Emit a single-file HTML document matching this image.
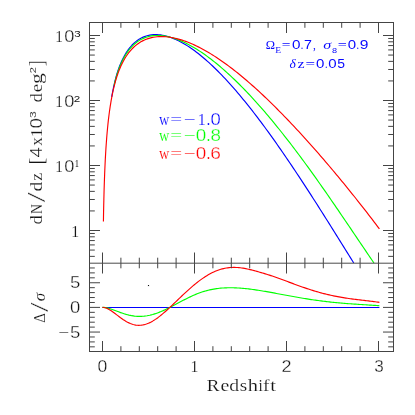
<!DOCTYPE html>
<html><head><meta charset="utf-8"><title>dN/dz</title>
<style>
html,body{margin:0;padding:0;background:#fff;}
svg{display:block;font-family:"Liberation Serif",serif;}
</style></head>
<body>
<svg width="415" height="415" viewBox="0 0 415 415">
<rect width="415" height="415" fill="#fff"/>
<path d="M111.70,96.86 L111.87,95.89 L112.05,94.93 L112.23,93.96 L112.41,92.99 L112.60,92.03 L112.79,91.06 L112.98,90.10 L113.18,89.13 L113.38,88.17 L113.58,87.20 L113.79,86.24 L114.00,85.28 L114.22,84.32 L114.44,83.36 L114.66,82.41 L114.89,81.46 L115.13,80.51 L115.36,79.56 L115.61,78.62 L115.85,77.68 L116.10,76.76 L116.36,75.83 L116.62,74.92 L116.88,74.01 L117.15,73.11 L117.43,72.23 L117.71,71.36 L118.00,70.50 L118.29,69.65 L118.58,68.82 L118.89,67.98 L119.19,67.16 L119.51,66.33 L119.83,65.52 L120.15,64.71 L120.49,63.90 L120.82,63.10 L121.17,62.30 L121.52,61.52 L121.88,60.73 L122.24,59.96 L122.61,59.19 L122.99,58.43 L123.37,57.67 L123.77,56.92 L124.17,56.18 L124.57,55.45 L124.99,54.72 L125.41,54.00 L125.84,53.29 L126.28,52.59 L126.73,51.90 L127.18,51.21 L127.65,50.54 L128.12,49.87 L128.60,49.21 L129.09,48.56 L129.59,47.93 L130.10,47.30 L131.89,45.26 L133.69,43.46 L135.48,41.87 L137.27,40.49 L139.07,39.28 L140.86,38.24 L142.66,37.35 L144.45,36.60 L146.24,35.99 L148.04,35.49 L149.83,35.11 L151.62,34.85 L153.42,34.68 L155.21,34.61 L157.01,34.63 L158.80,34.74 L160.59,34.94 L162.39,35.21 L164.18,35.56 L165.97,35.99 L167.77,36.48 L169.56,37.04 L171.35,37.67 L173.15,38.35 L174.94,39.10 L176.74,39.91 L178.53,40.77 L180.32,41.69 L182.12,42.66 L183.91,43.69 L185.70,44.76 L187.50,45.88 L189.29,47.05 L191.08,48.27 L192.88,49.52 L194.67,50.83 L196.47,52.17 L198.26,53.56 L200.05,54.99 L201.85,56.45 L203.64,57.96 L205.43,59.50 L207.23,61.08 L209.02,62.69 L210.82,64.34 L212.61,66.03 L214.40,67.75 L216.20,69.50 L217.99,71.28 L219.78,73.09 L221.58,74.94 L223.37,76.81 L225.16,78.72 L226.96,80.65 L228.75,82.61 L230.55,84.61 L232.34,86.62 L234.13,88.67 L235.93,90.74 L237.72,92.83 L239.51,94.95 L241.31,97.10 L243.10,99.27 L244.89,101.46 L246.69,103.68 L248.48,105.92 L250.28,108.18 L252.07,110.47 L253.86,112.77 L255.66,115.10 L257.45,117.44 L259.24,119.81 L261.04,122.20 L262.83,124.60 L264.63,127.03 L266.42,129.47 L268.21,131.93 L270.01,134.41 L271.80,136.91 L273.59,139.42 L275.39,141.95 L277.18,144.49 L278.97,147.05 L280.77,149.63 L282.56,152.22 L284.36,154.83 L286.15,157.45 L287.94,160.08 L289.74,162.73 L291.53,165.39 L293.32,168.06 L295.12,170.75 L296.91,173.45 L298.70,176.16 L300.50,178.88 L302.29,181.61 L304.09,184.35 L305.88,187.10 L307.67,189.86 L309.47,192.64 L311.26,195.42 L313.05,198.21 L314.85,201.00 L316.64,203.81 L318.44,206.62 L320.23,209.44 L322.02,212.27 L323.82,215.11 L325.61,217.95 L327.40,220.79 L329.20,223.64 L330.99,226.50 L332.78,229.36 L334.58,232.23 L336.37,235.10 L338.17,237.97 L339.96,240.85 L341.75,243.73 L343.55,246.61 L345.34,249.50 L347.13,252.38 L348.93,255.27 L350.72,258.16 L352.51,261.05 L353.73,263.00" stroke="#0000ff" stroke-width="1.15" fill="none" stroke-linejoin="round"/>
<path d="M114.00,85.81 L114.17,85.06 L114.35,84.32 L114.52,83.58 L114.70,82.85 L114.89,82.11 L115.07,81.38 L115.26,80.65 L115.45,79.92 L115.64,79.20 L115.84,78.47 L116.04,77.76 L116.24,77.04 L116.45,76.33 L116.66,75.62 L116.87,74.92 L117.08,74.23 L117.30,73.54 L117.52,72.85 L117.75,72.17 L117.97,71.50 L118.20,70.84 L118.44,70.18 L118.68,69.53 L118.92,68.87 L119.16,68.22 L119.41,67.58 L119.67,66.94 L119.92,66.30 L120.18,65.66 L120.45,65.03 L120.72,64.40 L120.99,63.78 L121.27,63.16 L121.55,62.54 L121.83,61.93 L122.12,61.32 L122.41,60.71 L122.71,60.11 L123.01,59.51 L123.32,58.92 L123.63,58.33 L123.95,57.75 L124.27,57.17 L124.59,56.60 L124.92,56.03 L125.26,55.46 L125.60,54.90 L125.94,54.35 L126.29,53.80 L126.65,53.25 L127.01,52.71 L127.38,52.18 L127.75,51.65 L128.13,51.13 L128.51,50.61 L128.90,50.10 L129.29,49.60 L129.69,49.10 L130.10,48.61 L131.89,46.59 L133.69,44.80 L135.48,43.23 L137.27,41.84 L139.07,40.63 L140.86,39.57 L142.66,38.66 L144.45,37.87 L146.24,37.22 L148.04,36.68 L149.83,36.24 L151.62,35.91 L153.42,35.67 L155.21,35.51 L157.01,35.45 L158.80,35.46 L160.59,35.55 L162.39,35.71 L164.18,35.93 L165.97,36.23 L167.77,36.58 L169.56,37.00 L171.35,37.47 L173.15,38.00 L174.94,38.58 L176.74,39.21 L178.53,39.89 L180.32,40.62 L182.12,41.39 L183.91,42.21 L185.70,43.07 L187.50,43.98 L189.29,44.92 L191.08,45.91 L192.88,46.93 L194.67,47.99 L196.47,49.08 L198.26,50.22 L200.05,51.38 L201.85,52.58 L203.64,53.82 L205.43,55.08 L207.23,56.38 L209.02,57.71 L210.82,59.07 L212.61,60.46 L214.40,61.87 L216.20,63.32 L217.99,64.80 L219.78,66.30 L221.58,67.83 L223.37,69.39 L225.16,70.97 L226.96,72.58 L228.75,74.21 L230.55,75.87 L232.34,77.56 L234.13,79.26 L235.93,81.00 L237.72,82.75 L239.51,84.53 L241.31,86.33 L243.10,88.16 L244.89,90.01 L246.69,91.88 L248.48,93.77 L250.28,95.68 L252.07,97.62 L253.86,99.57 L255.66,101.55 L257.45,103.54 L259.24,105.56 L261.04,107.60 L262.83,109.65 L264.63,111.73 L266.42,113.82 L268.21,115.94 L270.01,118.07 L271.80,120.22 L273.59,122.39 L275.39,124.57 L277.18,126.78 L278.97,129.00 L280.77,131.24 L282.56,133.49 L284.36,135.77 L286.15,138.05 L287.94,140.36 L289.74,142.68 L291.53,145.02 L293.32,147.37 L295.12,149.73 L296.91,152.11 L298.70,154.51 L300.50,156.92 L302.29,159.34 L304.09,161.78 L305.88,164.23 L307.67,166.69 L309.47,169.17 L311.26,171.65 L313.05,174.15 L314.85,176.67 L316.64,179.19 L318.44,181.72 L320.23,184.26 L322.02,186.82 L323.82,189.38 L325.61,191.95 L327.40,194.53 L329.20,197.12 L330.99,199.72 L332.78,202.32 L334.58,204.94 L336.37,207.56 L338.17,210.18 L339.96,212.81 L341.75,215.45 L343.55,218.09 L345.34,220.73 L347.13,223.38 L348.93,226.03 L350.72,228.69 L352.51,231.34 L354.31,234.00 L356.10,236.66 L357.90,239.32 L359.69,241.97 L361.48,244.63 L363.28,247.29 L365.07,249.94 L366.86,252.59 L368.66,255.23 L370.45,257.88 L372.25,260.51 L373.94,263.00" stroke="#00ff00" stroke-width="1.15" fill="none" stroke-linejoin="round"/>
<path d="M103.41,221.41 L103.47,218.19 L103.52,214.97 L103.58,211.75 L103.65,208.54 L103.72,205.33 L103.79,202.13 L103.87,198.92 L103.95,195.73 L104.03,192.53 L104.12,189.34 L104.22,186.15 L104.32,182.97 L104.43,179.80 L104.55,176.63 L104.67,173.46 L104.80,170.30 L104.93,167.15 L105.08,164.00 L105.23,160.86 L105.39,157.73 L105.57,154.61 L105.75,151.49 L105.94,148.38 L106.15,145.29 L106.37,142.20 L106.60,139.12 L106.84,136.05 L107.10,133.00 L107.37,129.96 L107.66,126.93 L107.97,123.92 L108.29,120.92 L108.64,117.94 L109.00,114.97 L109.39,112.02 L109.80,109.09 L110.24,106.19 L110.70,103.30 L111.18,100.44 L111.70,97.60 L112.25,94.78 L112.83,91.99 L113.44,89.24 L114.09,86.51 L114.78,83.82 L115.52,81.16 L116.29,78.53 L117.11,75.95 L117.98,73.41 L118.90,70.91 L119.88,68.47 L120.91,66.07 L122.01,63.72 L123.17,61.44 L124.40,59.21 L125.70,57.05 L127.09,54.97 L128.55,52.95 L130.10,51.02 L131.89,49.01 L133.69,47.22 L135.48,45.63 L137.27,44.21 L139.07,42.96 L140.86,41.84 L142.66,40.87 L144.45,40.01 L146.24,39.27 L148.04,38.63 L149.83,38.09 L151.62,37.64 L153.42,37.28 L155.21,37.00 L157.01,36.79 L158.80,36.66 L160.59,36.60 L162.39,36.60 L164.18,36.66 L165.97,36.78 L167.77,36.96 L169.56,37.19 L171.35,37.47 L173.15,37.81 L174.94,38.19 L176.74,38.62 L178.53,39.09 L180.32,39.61 L182.12,40.16 L183.91,40.76 L185.70,41.40 L187.50,42.07 L189.29,42.78 L191.08,43.53 L192.88,44.31 L194.67,45.13 L196.47,45.98 L198.26,46.86 L200.05,47.77 L201.85,48.72 L203.64,49.69 L205.43,50.69 L207.23,51.72 L209.02,52.78 L210.82,53.87 L212.61,54.98 L214.40,56.12 L216.20,57.28 L217.99,58.47 L219.78,59.68 L221.58,60.92 L223.37,62.18 L225.16,63.47 L226.96,64.77 L228.75,66.10 L230.55,67.45 L232.34,68.82 L234.13,70.22 L235.93,71.63 L237.72,73.06 L239.51,74.51 L241.31,75.99 L243.10,77.48 L244.89,78.99 L246.69,80.51 L248.48,82.06 L250.28,83.62 L252.07,85.20 L253.86,86.80 L255.66,88.41 L257.45,90.04 L259.24,91.69 L261.04,93.35 L262.83,95.03 L264.63,96.73 L266.42,98.43 L268.21,100.16 L270.01,101.89 L271.80,103.64 L273.59,105.41 L275.39,107.19 L277.18,108.98 L278.97,110.79 L280.77,112.61 L282.56,114.44 L284.36,116.28 L286.15,118.14 L287.94,120.01 L289.74,121.89 L291.53,123.78 L293.32,125.69 L295.12,127.60 L296.91,129.53 L298.70,131.47 L300.50,133.42 L302.29,135.38 L304.09,137.35 L305.88,139.33 L307.67,141.32 L309.47,143.32 L311.26,145.34 L313.05,147.36 L314.85,149.39 L316.64,151.43 L318.44,153.49 L320.23,155.55 L322.02,157.62 L323.82,159.70 L325.61,161.79 L327.40,163.89 L329.20,166.00 L330.99,168.12 L332.78,170.25 L334.58,172.38 L336.37,174.53 L338.17,176.69 L339.96,178.85 L341.75,181.03 L343.55,183.21 L345.34,185.40 L347.13,187.61 L348.93,189.82 L350.72,192.04 L352.51,194.27 L354.31,196.51 L356.10,198.76 L357.90,201.02 L359.69,203.29 L361.48,205.57 L363.28,207.86 L365.07,210.16 L366.86,212.47 L368.66,214.79 L370.45,217.12 L372.25,219.47 L374.04,221.82 L375.83,224.18 L377.63,226.56 L379.42,228.95" stroke="#ff0000" stroke-width="1.15" fill="none" stroke-linejoin="round"/>
<path d="M102.50,307.5 L379.42,307.5" stroke="#0000ff" stroke-width="1.15" fill="none"/>
<path d="M102.50,307.39 L103.89,307.43 L105.28,307.59 L106.67,307.83 L108.07,308.15 L109.46,308.54 L110.85,308.98 L112.24,309.46 L113.63,309.96 L115.02,310.49 L116.41,311.02 L117.81,311.55 L119.20,312.08 L120.59,312.59 L121.98,313.08 L123.37,313.55 L124.76,313.99 L126.15,314.40 L127.55,314.77 L128.94,315.12 L130.33,315.42 L131.72,315.69 L133.11,315.91 L134.50,316.10 L135.89,316.24 L137.29,316.34 L138.68,316.39 L140.07,316.40 L141.46,316.36 L142.85,316.28 L144.24,316.16 L145.64,315.99 L147.03,315.78 L148.42,315.52 L149.81,315.23 L151.20,314.89 L152.59,314.52 L153.98,314.11 L155.38,313.67 L156.77,313.19 L158.16,312.68 L159.55,312.14 L160.94,311.58 L162.33,310.98 L163.72,310.37 L165.12,309.73 L166.51,309.07 L167.90,308.39 L169.29,307.70 L170.68,306.99 L172.07,306.27 L173.46,305.54 L174.86,304.80 L176.25,304.06 L177.64,303.31 L179.03,302.57 L180.42,301.82 L181.81,301.08 L183.20,300.35 L184.60,299.63 L185.99,298.91 L187.38,298.21 L188.77,297.53 L190.16,296.86 L191.55,296.21 L192.94,295.58 L194.34,294.97 L195.73,294.39 L197.12,293.82 L198.51,293.28 L199.90,292.77 L201.29,292.28 L202.68,291.82 L204.08,291.38 L205.47,290.97 L206.86,290.59 L208.25,290.24 L209.64,289.91 L211.03,289.61 L212.43,289.33 L213.82,289.08 L215.21,288.85 L216.60,288.64 L217.99,288.46 L219.38,288.30 L220.77,288.17 L222.17,288.05 L223.56,287.95 L224.95,287.88 L226.34,287.82 L227.73,287.78 L229.12,287.76 L230.51,287.75 L231.91,287.76 L233.30,287.79 L234.69,287.83 L236.08,287.88 L237.47,287.95 L238.86,288.04 L240.25,288.13 L241.65,288.24 L243.04,288.36 L244.43,288.49 L245.82,288.63 L247.21,288.78 L248.60,288.94 L249.99,289.11 L251.39,289.29 L252.78,289.48 L254.17,289.67 L255.56,289.87 L256.95,290.08 L258.34,290.29 L259.73,290.51 L261.13,290.74 L262.52,290.97 L263.91,291.20 L265.30,291.44 L266.69,291.68 L268.08,291.93 L269.47,292.18 L270.87,292.43 L272.26,292.68 L273.65,292.94 L275.04,293.19 L276.43,293.45 L277.82,293.71 L279.22,293.97 L280.61,294.23 L282.00,294.49 L283.39,294.75 L284.78,295.01 L286.17,295.27 L287.56,295.53 L288.96,295.78 L290.35,296.04 L291.74,296.29 L293.13,296.54 L294.52,296.79 L295.91,297.04 L297.30,297.28 L298.70,297.53 L300.09,297.77 L301.48,298.00 L302.87,298.23 L304.26,298.46 L305.65,298.69 L307.04,298.91 L308.44,299.13 L309.83,299.35 L311.22,299.56 L312.61,299.76 L314.00,299.97 L315.39,300.17 L316.78,300.36 L318.18,300.55 L319.57,300.74 L320.96,300.92 L322.35,301.10 L323.74,301.27 L325.13,301.44 L326.52,301.61 L327.92,301.77 L329.31,301.92 L330.70,302.07 L332.09,302.22 L333.48,302.37 L334.87,302.51 L336.26,302.64 L337.66,302.77 L339.05,302.90 L340.44,303.03 L341.83,303.15 L343.22,303.26 L344.61,303.38 L346.01,303.49 L347.40,303.60 L348.79,303.70 L350.18,303.80 L351.57,303.90 L352.96,304.00 L354.35,304.10 L355.75,304.19 L357.14,304.28 L358.53,304.37 L359.92,304.46 L361.31,304.54 L362.70,304.63 L364.09,304.72 L365.49,304.80 L366.88,304.89 L368.27,304.97 L369.66,305.06 L371.05,305.15 L372.44,305.23 L373.83,305.32 L375.23,305.41 L376.62,305.51 L378.01,305.60 L379.40,305.70" stroke="#00ff00" stroke-width="1.15" fill="none" stroke-linejoin="round"/>
<path d="M102.50,307.39 L103.89,307.47 L105.28,307.76 L106.67,308.24 L108.07,308.88 L109.46,309.64 L110.85,310.51 L112.24,311.47 L113.63,312.48 L115.02,313.52 L116.41,314.59 L117.81,315.66 L119.20,316.72 L120.59,317.76 L121.98,318.75 L123.37,319.70 L124.76,320.60 L126.15,321.43 L127.55,322.19 L128.94,322.88 L130.33,323.49 L131.72,324.02 L133.11,324.46 L134.50,324.81 L135.89,325.07 L137.29,325.24 L138.68,325.32 L140.07,325.30 L141.46,325.18 L142.85,324.98 L144.24,324.68 L145.64,324.29 L147.03,323.82 L148.42,323.26 L149.81,322.63 L151.20,321.91 L152.59,321.13 L153.98,320.29 L155.38,319.38 L156.77,318.42 L158.16,317.41 L159.55,316.35 L160.94,315.25 L162.33,314.10 L163.72,312.93 L165.12,311.72 L166.51,310.48 L167.90,309.23 L169.29,307.95 L170.68,306.65 L172.07,305.34 L173.46,304.02 L174.86,302.69 L176.25,301.35 L177.64,300.02 L179.03,298.68 L180.42,297.35 L181.81,296.02 L183.20,294.70 L184.60,293.40 L185.99,292.10 L187.38,290.83 L188.77,289.57 L190.16,288.32 L191.55,287.11 L192.94,285.91 L194.34,284.74 L195.73,283.60 L197.12,282.49 L198.51,281.41 L199.90,280.36 L201.29,279.34 L202.68,278.36 L204.08,277.42 L205.47,276.51 L206.86,275.64 L208.25,274.82 L209.64,274.03 L211.03,273.29 L212.43,272.58 L213.82,271.93 L215.21,271.31 L216.60,270.74 L217.99,270.22 L219.38,269.74 L220.77,269.31 L222.17,268.92 L223.56,268.58 L224.95,268.28 L226.34,268.03 L227.73,267.82 L229.12,267.65 L230.51,267.53 L231.91,267.45 L233.30,267.41 L234.69,267.41 L236.08,267.45 L237.47,267.53 L238.86,267.64 L240.25,267.79 L241.65,267.96 L243.04,268.17 L244.43,268.41 L245.82,268.67 L247.21,268.96 L248.60,269.26 L249.99,269.59 L251.39,269.93 L252.78,270.28 L254.17,270.65 L255.56,271.02 L256.95,271.41 L258.34,271.80 L259.73,272.19 L261.13,272.59 L262.52,273.00 L263.91,273.41 L265.30,273.83 L266.69,274.26 L268.08,274.70 L269.47,275.14 L270.87,275.59 L272.26,276.05 L273.65,276.53 L275.04,277.01 L276.43,277.49 L277.82,277.99 L279.22,278.49 L280.61,279.00 L282.00,279.51 L283.39,280.02 L284.78,280.54 L286.17,281.06 L287.56,281.58 L288.96,282.10 L290.35,282.62 L291.74,283.14 L293.13,283.65 L294.52,284.17 L295.91,284.68 L297.30,285.19 L298.70,285.69 L300.09,286.19 L301.48,286.69 L302.87,287.17 L304.26,287.66 L305.65,288.13 L307.04,288.60 L308.44,289.06 L309.83,289.52 L311.22,289.96 L312.61,290.40 L314.00,290.83 L315.39,291.25 L316.78,291.66 L318.18,292.06 L319.57,292.45 L320.96,292.84 L322.35,293.21 L323.74,293.57 L325.13,293.93 L326.52,294.27 L327.92,294.60 L329.31,294.93 L330.70,295.24 L332.09,295.54 L333.48,295.84 L334.87,296.12 L336.26,296.40 L337.66,296.67 L339.05,296.92 L340.44,297.17 L341.83,297.41 L343.22,297.65 L344.61,297.87 L346.01,298.09 L347.40,298.30 L348.79,298.50 L350.18,298.70 L351.57,298.89 L352.96,299.08 L354.35,299.26 L355.75,299.43 L357.14,299.60 L358.53,299.77 L359.92,299.94 L361.31,300.11 L362.70,300.27 L364.09,300.43 L365.49,300.59 L366.88,300.76 L368.27,300.92 L369.66,301.09 L371.05,301.26 L372.44,301.44 L373.83,301.62 L375.23,301.80 L376.62,301.99 L378.01,302.19 L379.40,302.40" stroke="#ff0000" stroke-width="1.15" fill="none" stroke-linejoin="round"/>
<path d="M89.50,22.50L393.50,22.50M89.50,351.50L393.50,351.50M89.50,22.00L89.50,352.00M393.50,22.00L393.50,352.00M102.50,22.50L102.50,33.00M102.50,263.00L102.50,252.50M102.50,263.00L102.50,273.50M102.50,351.50L102.50,341.00M120.90,22.50L120.90,27.80M120.90,263.00L120.90,257.70M120.90,263.00L120.90,268.30M120.90,351.50L120.90,346.20M139.30,22.50L139.30,27.80M139.30,263.00L139.30,257.70M139.30,263.00L139.30,268.30M139.30,351.50L139.30,346.20M157.70,22.50L157.70,27.80M157.70,263.00L157.70,257.70M157.70,263.00L157.70,268.30M157.70,351.50L157.70,346.20M176.10,22.50L176.10,27.80M176.10,263.00L176.10,257.70M176.10,263.00L176.10,268.30M176.10,351.50L176.10,346.20M194.50,22.50L194.50,33.00M194.50,263.00L194.50,252.50M194.50,263.00L194.50,273.50M194.50,351.50L194.50,341.00M212.90,22.50L212.90,27.80M212.90,263.00L212.90,257.70M212.90,263.00L212.90,268.30M212.90,351.50L212.90,346.20M231.30,22.50L231.30,27.80M231.30,263.00L231.30,257.70M231.30,263.00L231.30,268.30M231.30,351.50L231.30,346.20M249.70,22.50L249.70,27.80M249.70,263.00L249.70,257.70M249.70,263.00L249.70,268.30M249.70,351.50L249.70,346.20M268.10,22.50L268.10,27.80M268.10,263.00L268.10,257.70M268.10,263.00L268.10,268.30M268.10,351.50L268.10,346.20M286.50,22.50L286.50,33.00M286.50,263.00L286.50,252.50M286.50,263.00L286.50,273.50M286.50,351.50L286.50,341.00M304.90,22.50L304.90,27.80M304.90,263.00L304.90,257.70M304.90,263.00L304.90,268.30M304.90,351.50L304.90,346.20M323.30,22.50L323.30,27.80M323.30,263.00L323.30,257.70M323.30,263.00L323.30,268.30M323.30,351.50L323.30,346.20M341.70,22.50L341.70,27.80M341.70,263.00L341.70,257.70M341.70,263.00L341.70,268.30M341.70,351.50L341.70,346.20M360.10,22.50L360.10,27.80M360.10,263.00L360.10,257.70M360.10,263.00L360.10,268.30M360.10,351.50L360.10,346.20M378.50,22.50L378.50,33.00M378.50,263.00L378.50,252.50M378.50,263.00L378.50,273.50M378.50,351.50L378.50,341.00M89.50,256.37L94.80,256.37M393.50,256.37L388.20,256.37M89.50,250.07L94.80,250.07M393.50,250.07L388.20,250.07M89.50,244.92L94.80,244.92M393.50,244.92L388.20,244.92M89.50,240.57L94.80,240.57M393.50,240.57L388.20,240.57M89.50,236.80L94.80,236.80M393.50,236.80L388.20,236.80M89.50,233.47L94.80,233.47M393.50,233.47L388.20,233.47M89.50,230.50L100.00,230.50M393.50,230.50L383.00,230.50M89.50,210.93L94.80,210.93M393.50,210.93L388.20,210.93M89.50,199.49L94.80,199.49M393.50,199.49L388.20,199.49M89.50,191.37L94.80,191.37M393.50,191.37L388.20,191.37M89.50,185.07L94.80,185.07M393.50,185.07L388.20,185.07M89.50,179.92L94.80,179.92M393.50,179.92L388.20,179.92M89.50,175.57L94.80,175.57M393.50,175.57L388.20,175.57M89.50,171.80L94.80,171.80M393.50,171.80L388.20,171.80M89.50,168.47L94.80,168.47M393.50,168.47L388.20,168.47M89.50,165.50L100.00,165.50M393.50,165.50L383.00,165.50M89.50,145.93L94.80,145.93M393.50,145.93L388.20,145.93M89.50,134.49L94.80,134.49M393.50,134.49L388.20,134.49M89.50,126.37L94.80,126.37M393.50,126.37L388.20,126.37M89.50,120.07L94.80,120.07M393.50,120.07L388.20,120.07M89.50,114.92L94.80,114.92M393.50,114.92L388.20,114.92M89.50,110.57L94.80,110.57M393.50,110.57L388.20,110.57M89.50,106.80L94.80,106.80M393.50,106.80L388.20,106.80M89.50,103.47L94.80,103.47M393.50,103.47L388.20,103.47M89.50,100.50L100.00,100.50M393.50,100.50L383.00,100.50M89.50,80.93L94.80,80.93M393.50,80.93L388.20,80.93M89.50,69.49L94.80,69.49M393.50,69.49L388.20,69.49M89.50,61.37L94.80,61.37M393.50,61.37L388.20,61.37M89.50,55.07L94.80,55.07M393.50,55.07L388.20,55.07M89.50,49.92L94.80,49.92M393.50,49.92L388.20,49.92M89.50,45.57L94.80,45.57M393.50,45.57L388.20,45.57M89.50,41.80L94.80,41.80M393.50,41.80L388.20,41.80M89.50,38.47L94.80,38.47M393.50,38.47L388.20,38.47M89.50,35.50L100.00,35.50M393.50,35.50L383.00,35.50M89.50,346.84L94.80,346.84M393.50,346.84L388.20,346.84M89.50,341.91L94.80,341.91M393.50,341.91L388.20,341.91M89.50,336.98L94.80,336.98M393.50,336.98L388.20,336.98M89.50,332.05L100.00,332.05M393.50,332.05L383.00,332.05M89.50,327.12L94.80,327.12M393.50,327.12L388.20,327.12M89.50,322.19L94.80,322.19M393.50,322.19L388.20,322.19M89.50,317.26L94.80,317.26M393.50,317.26L388.20,317.26M89.50,312.33L94.80,312.33M393.50,312.33L388.20,312.33M89.50,307.40L100.00,307.40M393.50,307.40L383.00,307.40M89.50,302.47L94.80,302.47M393.50,302.47L388.20,302.47M89.50,297.54L94.80,297.54M393.50,297.54L388.20,297.54M89.50,292.61L94.80,292.61M393.50,292.61L388.20,292.61M89.50,287.68L94.80,287.68M393.50,287.68L388.20,287.68M89.50,282.75L100.00,282.75M393.50,282.75L383.00,282.75M89.50,277.82L94.80,277.82M393.50,277.82L388.20,277.82M89.50,272.89L94.80,272.89M393.50,272.89L388.20,272.89M89.50,267.96L94.80,267.96M393.50,267.96L388.20,267.96" stroke="#444" stroke-width="1" fill="none"/>
<path d="M89.5,263.2L393.5,263.2" stroke="#4a4a4a" stroke-width="1" fill="none"/>
<rect x="148" y="285" width="1" height="1" fill="#151515"/><rect x="147.5" y="285" width="2" height="1.4" fill="#000" opacity="0.12"/>
<g opacity="0.999">
<text transform="matrix(0.8961 0 0 1 55.37 42.00)" font-size="17.25" fill="#141414" stroke="#fff" stroke-width="0.16">1</text>
<text transform="matrix(1.1229 0 0 1 64.13 42.00)" font-size="16.23" fill="#141414" stroke="#fff" stroke-width="0.28" font-family="Liberation Sans">0</text>
<text transform="matrix(1.2523 0 0 1 74.26 36.90)" font-size="9.26" fill="#141414" stroke="#fff" stroke-width="0.00" font-family="Liberation Sans">3</text>
<text transform="matrix(0.8961 0 0 1 55.37 107.00)" font-size="17.25" fill="#141414" stroke="#fff" stroke-width="0.16">1</text>
<text transform="matrix(1.1229 0 0 1 64.13 107.00)" font-size="16.23" fill="#141414" stroke="#fff" stroke-width="0.28" font-family="Liberation Sans">0</text>
<text transform="matrix(1.2559 0 0 1 73.81 101.90)" font-size="9.26" fill="#141414" stroke="#fff" stroke-width="0.00" font-family="Liberation Sans">2</text>
<text transform="matrix(0.8961 0 0 1 55.37 172.00)" font-size="17.25" fill="#141414" stroke="#fff" stroke-width="0.16">1</text>
<text transform="matrix(1.1229 0 0 1 64.13 172.00)" font-size="16.23" fill="#141414" stroke="#fff" stroke-width="0.28" font-family="Liberation Sans">0</text>
<text transform="matrix(0.8655 0 0 1 74.85 166.90)" font-size="9.85" fill="#141414" stroke="#fff" stroke-width="0.00">1</text>
<text transform="matrix(0.9130 0 0 1 71.34 237.00)" font-size="17.25" fill="#141414" stroke="#fff" stroke-width="0.16">1</text>
<text transform="matrix(1.1460 0 0 1 70.09 288.45)" font-size="16.23" fill="#141414" stroke="#fff" stroke-width="0.28" font-family="Liberation Sans">5</text>
<text transform="matrix(1.1362 0 0 1 70.12 313.30)" font-size="16.23" fill="#141414" stroke="#fff" stroke-width="0.28" font-family="Liberation Sans">0</text>
<text transform="matrix(1.1460 0 0 1 70.09 337.55)" font-size="16.23" fill="#141414" stroke="#fff" stroke-width="0.28" font-family="Liberation Sans">5</text>
<text transform="matrix(1.1183 0 0 1 58.15 337.55)" font-size="17.25" fill="#141414" stroke="#fff" stroke-width="0.16">−</text>
<text transform="matrix(1.0828 0 0 1 97.56 371.60)" font-size="16.23" fill="#141414" stroke="#fff" stroke-width="0.28" font-family="Liberation Sans">0</text>
<text transform="matrix(0.9130 0 0 1 190.44 371.80)" font-size="17.25" fill="#141414" stroke="#fff" stroke-width="0.16">1</text>
<text transform="matrix(1.1102 0 0 1 281.44 371.50)" font-size="16.23" fill="#141414" stroke="#fff" stroke-width="0.28" font-family="Liberation Sans">2</text>
<text transform="matrix(1.0516 0 0 1 374.20 371.50)" font-size="16.23" fill="#141414" stroke="#fff" stroke-width="0.28" font-family="Liberation Sans">3</text>
<text transform="matrix(1.0991 0 0 1 206.87 390.50)" font-size="17.25" fill="#141414" stroke="#fff" stroke-width="0.16">R</text>
<text transform="matrix(1.1564 0 0 1 220.43 390.50)" font-size="17.25" fill="#141414" stroke="#fff" stroke-width="0.16">e</text>
<text transform="matrix(1.1397 0 0 1 229.20 390.50)" font-size="17.25" fill="#141414" stroke="#fff" stroke-width="0.16">d</text>
<text transform="matrix(1.1103 0 0 1 239.73 390.50)" font-size="17.25" fill="#141414" stroke="#fff" stroke-width="0.16">s</text>
<text transform="matrix(1.1894 0 0 1 247.70 390.50)" font-size="17.25" fill="#141414" stroke="#fff" stroke-width="0.16">h</text>
<text transform="matrix(0.8876 0 0 1 258.51 390.50)" font-size="17.25" fill="#141414" stroke="#fff" stroke-width="0.16">i</text>
<text transform="matrix(1.1275 0 0 1 263.11 390.50)" font-size="17.25" fill="#141414" stroke="#fff" stroke-width="0.16">f</text>
<text transform="matrix(1.1915 0 0 1 270.20 390.50)" font-size="17.25" fill="#141414" stroke="#fff" stroke-width="0.16">t</text>
<text transform="matrix(0 -1.0742 1 0 42.40 224.46)" font-size="17.25" fill="#141414" stroke="#fff" stroke-width="0.16">d</text>
<text transform="matrix(0 -0.7977 1 0 42.40 213.96)" font-size="17.25" fill="#141414" stroke="#fff" stroke-width="0.16">N</text>
<text transform="matrix(0 -2.0932 1.43 0 45.00 202.17)" font-size="17.25" fill="#141414" stroke="#fff" stroke-width="0.16">/</text>
<text transform="matrix(0 -1.1266 1 0 42.40 191.59)" font-size="17.25" fill="#141414" stroke="#fff" stroke-width="0.16">d</text>
<text transform="matrix(0 -1.0374 1 0 42.40 180.86)" font-size="17.25" fill="#141414" stroke="#fff" stroke-width="0.16">z</text>
<text transform="matrix(0 -1.1679 1.22 0 42.90 164.49)" font-size="17.25" fill="#141414" stroke="#fff" stroke-width="0.16">[</text>
<text transform="matrix(0 -1.1518 1 0 42.40 157.49)" font-size="16.23" fill="#141414" stroke="#fff" stroke-width="0.28" font-family="Liberation Sans">4</text>
<text transform="matrix(0 -0.9870 1 0 42.40 145.83)" font-size="17.25" fill="#141414" stroke="#fff" stroke-width="0.16">x</text>
<text transform="matrix(0 -0.9806 1 0 42.40 137.07)" font-size="17.25" fill="#141414" stroke="#fff" stroke-width="0.16">1</text>
<text transform="matrix(0 -1.1630 1 0 42.40 128.40)" font-size="16.23" fill="#141414" stroke="#fff" stroke-width="0.28" font-family="Liberation Sans">0</text>
<text transform="matrix(0 -1.0873 1 0 42.40 102.46)" font-size="17.25" fill="#141414" stroke="#fff" stroke-width="0.16">d</text>
<text transform="matrix(0 -1.0921 1 0 42.40 92.32)" font-size="17.25" fill="#141414" stroke="#fff" stroke-width="0.16">e</text>
<text transform="matrix(0 -1.2572 1 0 42.40 83.93)" font-size="17.25" fill="#141414" stroke="#fff" stroke-width="0.16">g</text>
<text transform="matrix(0 -0.9777 1.22 0 42.90 65.89)" font-size="17.25" fill="#141414" stroke="#fff" stroke-width="0.16">]</text>
<text transform="matrix(0 -1.3187 1 0 35.70 118.03)" font-size="9.17" fill="#141414" stroke="#fff" stroke-width="0.10" font-family="Liberation Sans">3</text>
<text transform="matrix(0 -1.2020 1 0 35.50 73.21)" font-size="9.17" fill="#141414" stroke="#fff" stroke-width="0.10" font-family="Liberation Sans">2</text>
<text transform="matrix(0 -0.8723 1 0 45.30 322.84)" font-size="17.25" fill="#141414" stroke="#fff" stroke-width="0.16">Δ</text>
<text transform="matrix(0 -1.9853 1.43 0 48.20 312.06)" font-size="17.25" fill="#141414" stroke="#fff" stroke-width="0.16">/</text>
<text transform="matrix(0 -0.9901 1 0 45.30 301.29)" font-size="17.25" fill="#141414" stroke="#fff" stroke-width="0.16" font-style="italic">σ</text>
<text transform="matrix(0.8273 0 0 1 159.12 124.50)" font-size="17.25" fill="#0000ff" stroke="#fff" stroke-width="0.16">w</text>
<text transform="matrix(1.2199 0 0 1 170.35 124.50)" font-size="17.25" fill="#0000ff" stroke="#fff" stroke-width="0.16">=</text>
<text transform="matrix(1.2199 0 0 1 183.85 124.50)" font-size="17.25" fill="#0000ff" stroke="#fff" stroke-width="0.16">−</text>
<text transform="matrix(0.9299 0 0 1 197.72 124.50)" font-size="17.25" fill="#0000ff" stroke="#fff" stroke-width="0.16">1</text>
<text transform="matrix(0.9048 0 0 1 206.50 124.50)" font-size="17.25" fill="#0000ff" stroke="#fff" stroke-width="0.16">.</text>
<text transform="matrix(1.1362 0 0 1 210.62 124.50)" font-size="16.23" fill="#0000ff" stroke="#fff" stroke-width="0.28" font-family="Liberation Sans">0</text>
<text transform="matrix(0.8273 0 0 1 159.12 141.10)" font-size="17.25" fill="#00ff00" stroke="#fff" stroke-width="0.16">w</text>
<text transform="matrix(1.2199 0 0 1 170.35 141.10)" font-size="17.25" fill="#00ff00" stroke="#fff" stroke-width="0.16">=</text>
<text transform="matrix(1.2199 0 0 1 183.85 141.10)" font-size="17.25" fill="#00ff00" stroke="#fff" stroke-width="0.16">−</text>
<text transform="matrix(1.1630 0 0 1 195.70 141.10)" font-size="16.23" fill="#00ff00" stroke="#fff" stroke-width="0.28" font-family="Liberation Sans">0</text>
<text transform="matrix(0.9048 0 0 1 206.50 141.10)" font-size="17.25" fill="#00ff00" stroke="#fff" stroke-width="0.16">.</text>
<text transform="matrix(1.1583 0 0 1 210.52 141.10)" font-size="16.23" fill="#00ff00" stroke="#fff" stroke-width="0.28" font-family="Liberation Sans">8</text>
<text transform="matrix(0.8273 0 0 1 159.12 159.40)" font-size="17.25" fill="#ff0000" stroke="#fff" stroke-width="0.16">w</text>
<text transform="matrix(1.2199 0 0 1 170.35 159.40)" font-size="17.25" fill="#ff0000" stroke="#fff" stroke-width="0.16">=</text>
<text transform="matrix(1.2199 0 0 1 183.85 159.40)" font-size="17.25" fill="#ff0000" stroke="#fff" stroke-width="0.16">−</text>
<text transform="matrix(1.1630 0 0 1 195.70 159.40)" font-size="16.23" fill="#ff0000" stroke="#fff" stroke-width="0.28" font-family="Liberation Sans">0</text>
<text transform="matrix(0.9048 0 0 1 206.50 159.40)" font-size="17.25" fill="#ff0000" stroke="#fff" stroke-width="0.16">.</text>
<text transform="matrix(1.1787 0 0 1 210.36 159.40)" font-size="16.23" fill="#ff0000" stroke="#fff" stroke-width="0.28" font-family="Liberation Sans">6</text>
<text transform="matrix(0.9478 0 0 1 265.85 49.20)" font-size="13.19" fill="#0808ff" stroke="#fff" stroke-width="0.00">Ω</text>
<text transform="matrix(1.2422 0 0 1 275.32 52.60)" font-size="7.71" fill="#0808ff" stroke="#fff" stroke-width="0.00">E</text>
<text transform="matrix(1.1726 0 0 1 281.63 49.20)" font-size="13.19" fill="#0808ff" stroke="#fff" stroke-width="0.00">=</text>
<text transform="matrix(1.2301 0 0 1 291.90 49.20)" font-size="12.41" fill="#0808ff" stroke="#fff" stroke-width="0.00" font-family="Liberation Sans">0</text>
<text transform="matrix(0.7696 0 0 1 300.73 49.20)" font-size="13.19" fill="#0808ff" stroke="#fff" stroke-width="0.00">.</text>
<text transform="matrix(1.1517 0 0 1 304.07 49.20)" font-size="12.41" fill="#0808ff" stroke="#fff" stroke-width="0.00" font-family="Liberation Sans">7</text>
<text transform="matrix(0.8651 0 0 1 313.07 49.20)" font-size="13.19" fill="#0808ff" stroke="#fff" stroke-width="0.00">,</text>
<text transform="matrix(1.2245 0 0 1 323.22 49.20)" font-size="13.19" fill="#0808ff" stroke="#fff" stroke-width="0.00" font-style="italic">σ</text>
<text transform="matrix(1.1994 0 0 1 332.00 53.00)" font-size="7.64" fill="#0808ff" stroke="#fff" stroke-width="0.00" font-family="Liberation Sans">8</text>
<text transform="matrix(1.2215 0 0 1 337.80 49.20)" font-size="13.19" fill="#0808ff" stroke="#fff" stroke-width="0.00">=</text>
<text transform="matrix(1.2132 0 0 1 347.71 49.20)" font-size="12.41" fill="#0808ff" stroke="#fff" stroke-width="0.00" font-family="Liberation Sans">0</text>
<text transform="matrix(0.7696 0 0 1 356.43 49.20)" font-size="13.19" fill="#0808ff" stroke="#fff" stroke-width="0.00">.</text>
<text transform="matrix(1.2555 0 0 1 359.87 49.20)" font-size="12.41" fill="#0808ff" stroke="#fff" stroke-width="0.00" font-family="Liberation Sans">9</text>
<text transform="matrix(1.0302 0 0 1 289.60 67.50)" font-size="13.19" fill="#0808ff" stroke="#fff" stroke-width="0.00" font-style="italic">δ</text>
<text transform="matrix(1.2074 0 0 1 297.47 67.50)" font-size="13.19" fill="#0808ff" stroke="#fff" stroke-width="0.00">z</text>
<text transform="matrix(1.2866 0 0 1 305.45 67.50)" font-size="13.19" fill="#0808ff" stroke="#fff" stroke-width="0.00">=</text>
<text transform="matrix(1.2132 0 0 1 315.91 67.50)" font-size="12.41" fill="#0808ff" stroke="#fff" stroke-width="0.00" font-family="Liberation Sans">0</text>
<text transform="matrix(0.7696 0 0 1 324.93 67.50)" font-size="13.19" fill="#0808ff" stroke="#fff" stroke-width="0.00">.</text>
<text transform="matrix(1.2132 0 0 1 328.21 67.50)" font-size="12.41" fill="#0808ff" stroke="#fff" stroke-width="0.00" font-family="Liberation Sans">0</text>
<text transform="matrix(1.1213 0 0 1 337.24 67.50)" font-size="12.41" fill="#0808ff" stroke="#fff" stroke-width="0.00" font-family="Liberation Sans">5</text>
</g>
</svg>
</body></html>
